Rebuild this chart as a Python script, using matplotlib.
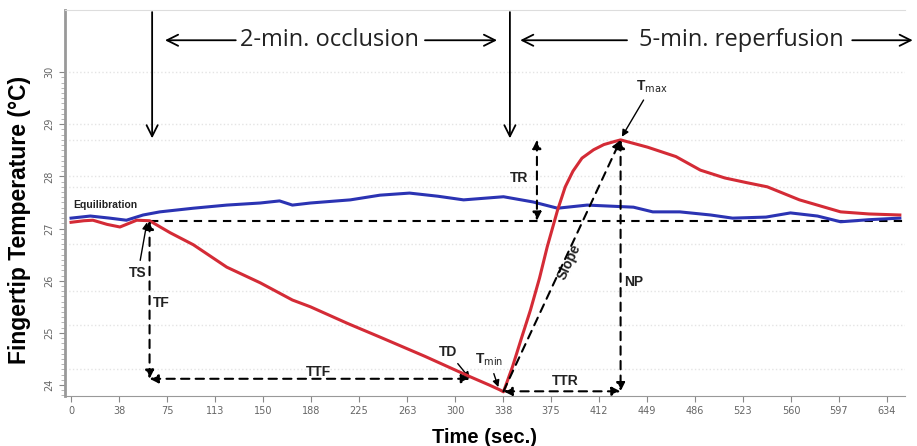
import matplotlib.pyplot as plt
import numpy as np

# Red curve: finger in occluded arm (time in s, temperature in C)
red_t = [0, 10, 17, 28, 38, 51, 61, 77, 95, 121, 147, 172, 186, 215, 240, 275, 310,
         325, 333, 336, 343, 350, 357, 364, 370, 378, 384, 390, 397, 406, 414, 421, 427,
         448, 470, 489, 508, 525, 541, 566, 598, 620, 644]
red_T = [27.12, 27.15, 27.16, 27.08, 27.03, 27.16, 27.15, 26.92, 26.69, 26.26, 25.96,
         25.63, 25.50, 25.18, 24.92, 24.55, 24.16, 24.00, 23.91, 23.87, 24.35, 24.90,
         25.44, 26.05, 26.65, 27.35, 27.80, 28.10, 28.35, 28.51, 28.61, 28.66, 28.70,
         28.56, 28.38, 28.12, 27.97, 27.88, 27.80, 27.55, 27.32, 27.28, 27.26]

# Blue curve: control finger
blue_t = [0, 15, 30, 43, 56, 69, 95, 121, 147, 162, 172, 186, 217, 240, 263, 285,
          305, 336, 359, 378, 401, 437, 452, 473, 497, 514, 540, 559, 580, 598, 620, 644]
blue_T = [27.20, 27.24, 27.20, 27.16, 27.26, 27.32, 27.39, 27.45, 27.49, 27.53, 27.45,
          27.49, 27.55, 27.64, 27.68, 27.62, 27.55, 27.61, 27.51, 27.39, 27.45, 27.41,
          27.32, 27.32, 27.26, 27.20, 27.22, 27.30, 27.24, 27.13, 27.17, 27.20]

xtick_pos = np.linspace(0, 634, 18)
xtick_labels = ["0", "38", "75", "113", "150", "188", "225", "263", "300", "338",
                "375", "412", "449", "486", "523", "560", "597", "634"]
ytick_pos = [24, 25, 26, 27, 28, 29, 30]

baseline = 27.15
t_start, t_td, t_min, t_max = 61, 310, 336, 427
T_td, T_min, T_max = 24.12, 23.88, 28.70
t_tr = 362

fig = plt.figure(figsize=(9.17, 4.46), dpi=100)
ax = fig.add_axes([65 / 917, 50 / 446, 840 / 917, 386 / 446])

ax.plot(blue_t, blue_T, color='#2b33b3', lw=2.2, zorder=3)
ax.plot(red_t, red_T, color='#d42b36', lw=2.2, zorder=4)

ax.set_xlim(-4.7, 648)
ax.set_ylim(23.79, 31.19)
ax.set_xticks(xtick_pos)
ax.set_xticklabels(xtick_labels)
ax.set_yticks(ytick_pos)
ax.set_yticklabels([str(v) for v in ytick_pos], rotation=90, va='center')
ax.set_yticks(np.arange(23.8, 30.01, 0.1), minor=True)
ax.tick_params(axis='both', colors='#888888', labelcolor='#666666', labelsize=7, length=4)
ax.tick_params(axis='y', which='minor', colors='#aaaaaa', length=3)
ax.spines['right'].set_visible(False)
ax.spines['top'].set_color('#dddddd')
ax.spines['left'].set_color('#999999')
ax.spines['bottom'].set_color('#999999')
ax.spines['left'].set_linewidth(2)
for v in [24.3, 25.15, 25.8, 26.7, 27.8, 28.0, 28.7, 29.0, 30.0]:
    ax.axhline(v, color='#e4e4e4', lw=1, ls=':', zorder=0)

ax.set_xlabel("Time (sec.)", fontsize=14.5, fontweight='bold', family='Liberation Sans', labelpad=8)
ax.set_ylabel("Fingertip Temperature (°C)", fontsize=16.5, fontweight='bold', family='Liberation Sans')
ax.yaxis.set_label_coords(-0.040, 0.455)

dash = dict(color='black', lw=1.5, ls=(0, (4, 3)))
ax.plot([t_start, 648], [baseline, baseline], **dash, zorder=2)


def dline(x0, y0, x1, y1, style='<|-|>'):
    ax.annotate('', xy=(x1, y1), xytext=(x0, y0),
                arrowprops=dict(arrowstyle=style + ',head_width=0.25,head_length=0.5',
                                color='black', lw=1.5, ls=(0, (4, 3)),
                                shrinkA=0, shrinkB=0), zorder=5)


dline(t_start, baseline, t_start, T_td)
dline(t_start, T_td, t_td, T_td)
dline(t_min, T_min, t_max, T_min)
dline(t_max, T_max, t_max, T_min)
dline(t_tr, T_max, t_tr, baseline)
dline(t_min, T_min, t_max, T_max, style='-|>')

lab = dict(fontsize=10, family='Liberation Sans', color='#222222', fontweight='bold')
ax.text(1.5, 27.45, "Equilibration", fontsize=7.5, family='Liberation Sans', va='center', fontweight='bold', color='#222222')
ax.text(70, 25.57, "TF", ha='center', va='center', **lab)
ax.text(192, 24.25, "TTF", ha='center', va='center', **lab)
ax.text(384, 24.08, "TTR", ha='center', va='center', **lab)
ax.text(437, 25.98, "NP", ha='center', va='center', **lab)
ax.text(348, 27.97, "TR", ha='center', va='center', **lab)
ax.text(387, 26.36, "Slope", ha='center', va='center', rotation=65, **lab)

thin = dict(arrowstyle='-|>,head_width=0.2,head_length=0.4', color='black', lw=1, shrinkA=2, shrinkB=0)
ax.annotate("TS", xy=(59, 27.12), xytext=(52, 26.15), ha='center', va='center', arrowprops=thin, **lab)
ax.annotate("TD", xy=(t_td, T_td), xytext=(293, 24.64), ha='center', va='center', arrowprops=thin, **lab)
ax.annotate("T$_{\\mathrm{min}}$", xy=(332, 23.96), xytext=(325, 24.48), ha='center', va='center', arrowprops=thin, **lab)
ax.annotate("T$_{\\mathrm{max}}$", xy=(428, 28.76), xytext=(451, 29.72), ha='center', va='center', arrowprops=thin, **lab)

# period markers above the curves
big = dict(arrowstyle='->,head_width=0.4,head_length=0.8', color='black', lw=1.3, shrinkA=0, shrinkB=0)
for tx in [63, 341]:
    ax.annotate('', xy=(tx, 28.73), xytext=(tx, 31.15), arrowprops=big, annotation_clip=False)
ax.text(201, 30.61, "2-min. occlusion", fontsize=17, family='Open Sans', ha='center', va='center', color='#222222')
ax.annotate('', xy=(73, 30.61), xytext=(128, 30.61), arrowprops=big)
ax.annotate('', xy=(331, 30.61), xytext=(275, 30.61), arrowprops=big)
ax.text(521, 30.61, "5-min. reperfusion", fontsize=17, family='Open Sans', ha='center', va='center', color='#222222')
ax.annotate('', xy=(349, 30.61), xytext=(432, 30.61), arrowprops=big)
ax.annotate('', xy=(654, 30.61), xytext=(607, 30.61), arrowprops=big, annotation_clip=False)

fig.savefig("out.png", dpi=100)
